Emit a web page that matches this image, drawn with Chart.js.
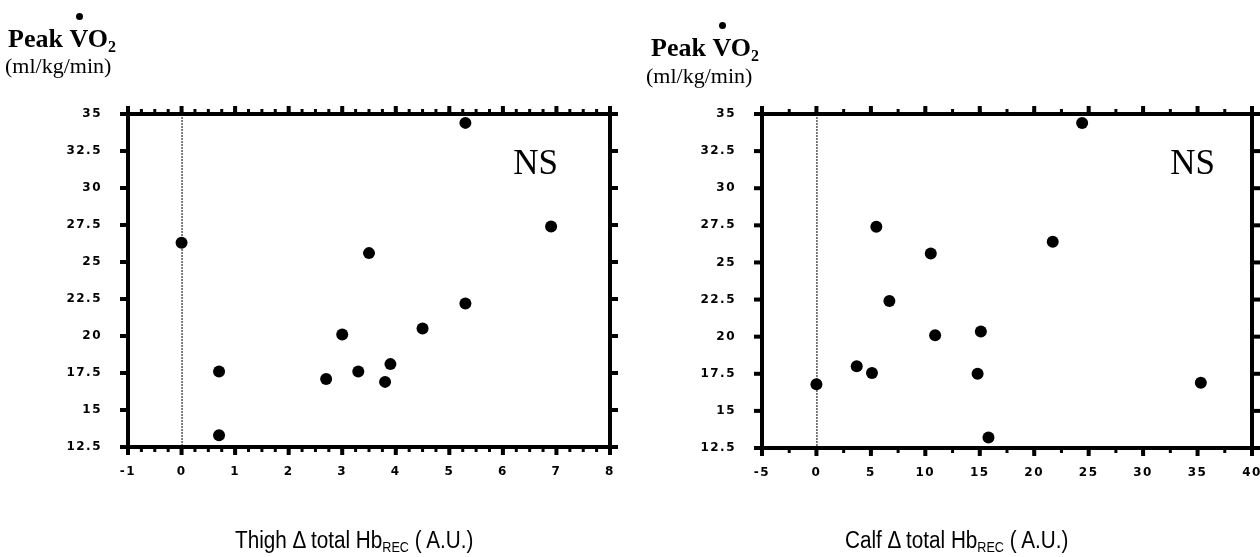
<!DOCTYPE html>
<html>
<head>
<meta charset="utf-8">
<script src="https://cdn.jsdelivr.net/npm/chart.js@4.4.1/dist/chart.umd.min.js"></script>
<style>
  body { margin: 0; background: #fff; }
  #page { position: relative; width: 1260px; height: 557px; overflow: hidden; background: #fff; }
  canvas { position: absolute; top: 0; }
  .ttl { position: absolute; font-family: 'Liberation Serif', 'Times New Roman', serif; font-weight: bold; font-size: 26px; line-height: 1; white-space: nowrap; }
  .v { position: relative; }
  .v::before { content: ''; position: absolute; left: 50%; top: -11px; width: 7px; height: 7px; margin-left: -3px; border-radius: 50%; background: #000; }
  .two { font-size: 16px; vertical-align: -5px; }
  .unit { position: absolute; font-family: 'Liberation Serif', 'Times New Roman', serif; font-size: 22px; line-height: 1; white-space: nowrap; }
  .xt { position: absolute; font-family: 'Liberation Sans', Arial, sans-serif; font-size: 23px; line-height: 1; white-space: nowrap; transform: scaleX(0.9); transform-origin: left top; }
  .rec { font-size: 14px; vertical-align: -4px; }
</style>
</head>
<body>
<div id="page">
  <canvas id="thigh" width="630" height="557" style="left:0"></canvas>
  <canvas id="calf" width="630" height="557" style="left:630px"></canvas>

  <div class="ttl" style="left:8px; top:26px">Peak <span class="v">V</span>O<span class="two">2</span></div>
  <div class="unit" style="left:5px; top:55px">(ml/kg/min)</div>
  <div class="ttl" style="left:651px; top:35px">Peak <span class="v">V</span>O<span class="two">2</span></div>
  <div class="unit" style="left:646px; top:65px">(ml/kg/min)</div>

  <div class="xt" style="left:235px; top:529px">Thigh Δ total Hb<span class="rec">REC</span> ( A.U.)</div>
  <div class="xt" style="left:845px; top:529px">Calf Δ total Hb<span class="rec">REC</span> ( A.U.)</div>
</div>

<script>
// Peak VO2 vs thigh delta total Hb
const thighX = [0, 0.7, 0.7, 2.7, 3.0, 3.3, 3.5, 3.8, 3.9, 4.5, 5.3, 5.3, 6.9];
const thighVO2 = [26.3, 17.6, 13.3, 17.1, 20.1, 17.6, 25.6, 16.9, 18.1, 20.5, 22.2, 34.4, 27.4];

// Peak VO2 vs calf delta total Hb
const calfX = [0, 3.7, 5.1, 5.5, 6.7, 10.5, 10.9, 14.8, 15.1, 15.8, 21.7, 24.4, 35.3];
const calfVO2 = [16.8, 18.0, 17.55, 27.4, 22.4, 25.6, 20.1, 17.5, 20.35, 13.2, 26.4, 34.4, 16.9];

// tick labels
const vo2Ticks = [12.5, 15, 17.5, 20, 22.5, 25, 27.5, 30, 32.5, 35];
const thighTicks = [-1, 0, 1, 2, 3, 4, 5, 6, 7, 8];
const calfTicks = [-5, 0, 5, 10, 15, 20, 25, 30, 35, 40];

const tickFont = { family: "'DejaVu Sans', sans-serif", size: 12, weight: 'bold' };

// thick box, outside tick marks, dotted zero line
const framePlugin = {
    id: 'frame',
    beforeDraw(chart) {
        chart.ctx.letterSpacing = '1.5px';
    },
    beforeDatasetsDraw(chart, args, opts) {
        const { ctx, chartArea: a, scales: { x, y } } = chart;
        ctx.save();
        ctx.fillStyle = '#000';

        // zero line
        const x0 = x.getPixelForValue(0);
        ctx.strokeStyle = '#000';
        ctx.lineWidth = 1;
        ctx.setLineDash([2, 1]);
        ctx.beginPath();
        ctx.moveTo(x0 + 0.5, a.top);
        ctx.lineTo(x0 + 0.5, a.bottom);
        ctx.stroke();
        ctx.setLineDash([]);

        // minor x ticks
        for (let v = x.min; v <= x.max + 1e-9; v += opts.minorStep) {
            const px = x.getPixelForValue(v);
            ctx.fillRect(px - 1.5, a.bottom, 3, 5);
            ctx.fillRect(px - 1.5, a.top - 5, 3, 5);
        }
        // major x ticks
        opts.xTicks.forEach((v) => {
            const px = x.getPixelForValue(v);
            ctx.fillRect(px - 2, a.bottom, 4, 8);
            ctx.fillRect(px - 2, a.top - 8, 4, 8);
        });
        // y ticks both sides
        vo2Ticks.forEach((v) => {
            const py = y.getPixelForValue(v);
            ctx.fillRect(a.left - 8, py - 2, 8, 4);
            ctx.fillRect(a.right, py - 2, 8, 4);
        });

        // box
        ctx.strokeStyle = '#000';
        ctx.lineWidth = 4;
        ctx.strokeRect(a.left, a.top, a.right - a.left, a.bottom - a.top);

        // NS
        ctx.letterSpacing = '0px';
        ctx.font = "35px 'Liberation Serif', serif";
        ctx.textAlign = 'right';
        ctx.textBaseline = 'alphabetic';
        ctx.fillText('NS', a.right - opts.nsGap, a.top + 60);
        ctx.restore();
    }
};

function makeChart(id, xs, ys, xTicks, xMin, xMax, minorStep, pad, nsGap) {
    const ctx = document.getElementById(id).getContext('2d');
    return new Chart(ctx, {
        type: 'scatter',
        data: {
            datasets: [{
                data: xs.map((v, i) => ({ x: v, y: ys[i] })),
                backgroundColor: '#000',
                borderWidth: 0,
                pointRadius: 6,
                clip: false
            }]
        },
        options: {
            responsive: false,
            animation: false,
            devicePixelRatio: 1,
            layout: { padding: pad },
            plugins: {
                legend: { display: false },
                tooltip: { enabled: false },
                frame: { xTicks: xTicks, minorStep: minorStep, nsGap: nsGap }
            },
            scales: {
                x: {
                    type: 'linear',
                    min: xMin,
                    max: xMax,
                    afterBuildTicks: (s) => { s.ticks = xTicks.map((v) => ({ value: v })); },
                    afterFit: (s) => { s.height = 40; s.paddingLeft = 0; s.paddingRight = 0; },
                    grid: { display: false, drawTicks: false },
                    border: { display: false },
                    ticks: { padding: 18, color: '#000', font: tickFont, autoSkip: false, maxRotation: 0, callback: (v) => String(v) }
                },
                y: {
                    type: 'linear',
                    min: 12.5,
                    max: 35,
                    afterBuildTicks: (s) => { s.ticks = vo2Ticks.map((v) => ({ value: v })); },
                    afterFit: (s) => { s.width = 110; s.paddingTop = 0; s.paddingBottom = 0; },
                    grid: { display: false, drawTicks: false },
                    border: { display: false },
                    ticks: { padding: 26, color: '#000', font: tickFont, callback: (v) => String(v) }
                }
            }
        },
        plugins: [framePlugin]
    });
}

makeChart('thigh', thighX, thighVO2, thighTicks, -1, 8, 0.25, { left: 18, right: 20, top: 114, bottom: 70 }, 52);
makeChart('calf', calfX, calfVO2, calfTicks, -5, 40, 2.5, { left: 22, right: 8, top: 114, bottom: 69 }, 37);
</script>
</body>
</html>
